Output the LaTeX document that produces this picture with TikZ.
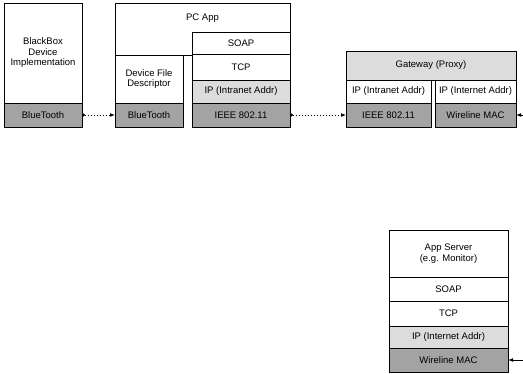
\documentclass[tikz,border=0pt]{standalone}
\usepackage{fontspec}
\setmainfont{Liberation Sans}
\usetikzlibrary{positioning,arrows.meta}
\definecolor{LightDots}{HTML}{DCDCDC}
\definecolor{DarkDots}{HTML}{A3A3A3}

\begin{document}
\begin{tikzpicture}[x=1pt, y=-1pt,
  layer/.style={draw=black, line width=0.8pt, fill=white, outer sep=0pt, inner sep=1pt, align=center, font=\fontsize{9.5}{10.5}\selectfont},
  lite/.style={layer, fill=LightDots},
  dark/.style={layer, fill=DarkDots},
  link/.style={line width=0.8pt, dash pattern=on 1pt off 2pt, {Circle[length=3pt]}-{Latex[length=5pt]}},
  feed/.style={line width=0.8pt, -{Latex[length=5pt]}},
  node distance=0pt]
\useasboundingbox (0,0) rectangle (523,374);
% BlackBox device
\node[layer, anchor=north west, minimum width=78, minimum height=100] (bb) at (4,3) {BlackBox\\Device\\Implementation};
\node[dark, minimum width=78, minimum height=24, below=of bb] (bbbt) {BlueTooth};
% PC application
\node[layer, anchor=north west, minimum width=175, minimum height=52,
  label={[anchor=north, inner sep=0pt, yshift=-11pt, font=\fontsize{9.5}{10.5}\selectfont]north:PC App}] (pc) at (115,3) {};
\node[layer, minimum width=68, minimum height=48, below right=of pc.south west] (dfd) {Device File\\Descriptor};
\node[dark, minimum width=68, minimum height=24, below=of dfd] (bt2) {BlueTooth};
\node[layer, anchor=north east, minimum width=98, minimum height=22] (soap) at (290,32) {SOAP};
\node[layer, minimum width=98, minimum height=26, below=of soap] (tcp) {TCP};
\node[lite, minimum width=98, minimum height=23, below=of tcp] (ip) {IP (Intranet Addr)};
\node[dark, minimum width=98, minimum height=24, below=of ip] (ieee) {IEEE 802.11};
% gateway
\node[lite, anchor=north west, minimum width=170, minimum height=29] (gw) at (346,51) {Gateway (Proxy)};
\node[layer, minimum width=85, minimum height=23, below right=of gw.south west] (gwipa) {IP (Intranet Addr)};
\node[dark, minimum width=85, minimum height=24, below=of gwipa] (gwieee) {IEEE 802.11};
\node[layer, minimum width=81, minimum height=23, below left=of gw.south east] (gwipb) {IP (Internet Addr)};
\node[dark, minimum width=81, minimum height=24, below=of gwipb] (gwmac) {Wireline MAC};
% app server
\node[layer, anchor=north west, minimum width=119, minimum height=47] (as) at (389,230) {App Server\\(e.g. Monitor)};
\node[layer, minimum width=119, minimum height=24, below=of as] (assoap) {SOAP};
\node[layer, minimum width=119, minimum height=25, below=of assoap] (astcp) {TCP};
\node[lite, minimum width=119, minimum height=22, below=of astcp] (asip) {IP (Internet Addr)};
\node[dark, minimum width=119, minimum height=24, below=of asip] (asmac) {Wireline MAC};
\coordinate (gwout) at (523,115);
\coordinate (asin) at (523,360);
\foreach \a/\b in {bbbt/bt2,ieee/gwieee}
  \draw[link] (\a) -- (\b);
\foreach \a/\b in {gwout/gwmac,asin/asmac}
  \draw[feed] (\a) -- (\b);
\end{tikzpicture}
\end{document}
